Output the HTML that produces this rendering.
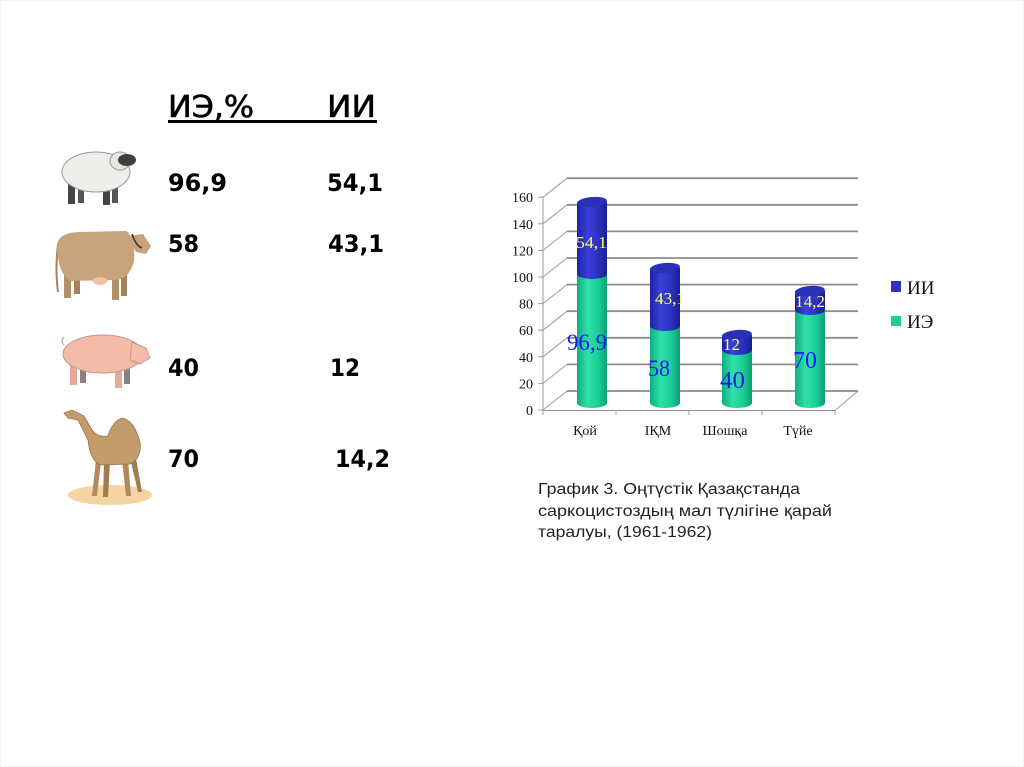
<!DOCTYPE html>
<html>
<head>
<meta charset="utf-8">
<style>
html,body{margin:0;padding:0;background:#fff;}
body{width:1024px;height:767px;overflow:hidden;position:relative;}
svg{position:absolute;left:0;top:0;}
</style>
</head>
<body>
<svg width="1024" height="767" viewBox="0 0 1024 767" xmlns="http://www.w3.org/2000/svg">
<defs>
  <linearGradient id="gG" x1="0" x2="1" y1="0" y2="0">
    <stop offset="0" stop-color="#0fae80"/>
    <stop offset="0.35" stop-color="#2ee0aa"/>
    <stop offset="0.7" stop-color="#1ccf98"/>
    <stop offset="1" stop-color="#0d9e74"/>
  </linearGradient>
  <linearGradient id="gB" x1="0" x2="1" y1="0" y2="0">
    <stop offset="0" stop-color="#1e22a0"/>
    <stop offset="0.35" stop-color="#3a40d6"/>
    <stop offset="0.7" stop-color="#2c31c0"/>
    <stop offset="1" stop-color="#1a1e94"/>
  </linearGradient>
</defs>

<rect x="0.5" y="0.5" width="1023" height="766" fill="none" stroke="#f2f2f2" stroke-width="1"/>

<!-- ===== Left table ===== -->
<g font-family="'DejaVu Sans','Liberation Sans',sans-serif" fill="#000">
  <text x="168" y="117" font-size="30" stroke="#000" stroke-width="0.6" textLength="86" lengthAdjust="spacingAndGlyphs">ИЭ,%</text>
  <text x="327" y="117" font-size="30" stroke="#000" stroke-width="0.6" textLength="49" lengthAdjust="spacingAndGlyphs">ИИ</text>
  <rect x="168" y="120" width="209" height="3"/>
  <g font-weight="bold" font-size="24">
    <text x="168" y="191" textLength="59" lengthAdjust="spacingAndGlyphs">96,9</text>
    <text x="327" y="191" textLength="56" lengthAdjust="spacingAndGlyphs">54,1</text>
    <text x="168" y="252" textLength="31" lengthAdjust="spacingAndGlyphs">58</text>
    <text x="328" y="252" textLength="56" lengthAdjust="spacingAndGlyphs">43,1</text>
    <text x="168" y="376" textLength="31" lengthAdjust="spacingAndGlyphs">40</text>
    <text x="330" y="376" textLength="30" lengthAdjust="spacingAndGlyphs">12</text>
    <text x="168" y="467" textLength="31" lengthAdjust="spacingAndGlyphs">70</text>
    <text x="335" y="467" textLength="55" lengthAdjust="spacingAndGlyphs">14,2</text>
  </g>
</g>

<!-- ===== Animals ===== -->
<!-- sheep -->
<g>
  <rect x="68" y="184" width="7" height="20" fill="#444"/>
  <rect x="78" y="184" width="6" height="19" fill="#555"/>
  <rect x="103" y="184" width="7" height="21" fill="#444"/>
  <rect x="112" y="184" width="6" height="19" fill="#555"/>
  <ellipse cx="96" cy="172" rx="34" ry="20" fill="#eeeeea" stroke="#9a9a96" stroke-width="1"/>
  <ellipse cx="120" cy="161" rx="10" ry="9" fill="#e6e6e2" stroke="#9a9a96" stroke-width="1"/>
  <ellipse cx="127" cy="160" rx="9" ry="6" fill="#3e3e3e"/>
</g>
<!-- cow -->
<g>
  <path d="M58 244 Q55 270 58 292" stroke="#a8845e" stroke-width="2" fill="none"/>
  <rect x="64" y="262" width="7" height="36" fill="#b48e66"/>
  <rect x="74" y="262" width="6" height="32" fill="#a8825c"/>
  <rect x="112" y="262" width="7" height="38" fill="#b48e66"/>
  <rect x="121" y="262" width="6" height="34" fill="#a8825c"/>
  <path d="M57 244 Q60 232 80 232 L126 231 Q136 238 134 262 Q128 280 115 280 L70 281 Q57 272 57 244 Z" fill="#c7a27a"/>
  <ellipse cx="100" cy="281" rx="7" ry="4" fill="#f0c0a8"/>
  <path d="M128 236 L143 234 L151 246 L146 254 L136 252 Z" fill="#c7a27a"/>
  <path d="M132 234 Q136 246 142 248" stroke="#333" stroke-width="1.5" fill="none"/>
</g>
<!-- pig -->
<g>
  <rect x="70" y="365" width="7" height="20" fill="#e8a898"/>
  <rect x="80" y="365" width="6" height="18" fill="#8a8080"/>
  <rect x="115" y="366" width="7" height="22" fill="#e8a898"/>
  <rect x="124" y="366" width="6" height="18" fill="#8a8080"/>
  <ellipse cx="103" cy="354" rx="40" ry="19" fill="#f4bba9" stroke="#c99686" stroke-width="1"/>
  <path d="M132 342 L146 348 L150 358 L140 364 L130 360 Z" fill="#f4bba9" stroke="#c99686" stroke-width="1"/>
  <path d="M64 345 q-4 -4 0 -8" stroke="#c99686" fill="none"/>
</g>
<!-- camel -->
<g>
  <ellipse cx="110" cy="495" rx="42" ry="10" fill="#f6d2a4"/>
  <path d="M96 460 L92 496 L97 496 L101 462 Z" fill="#b08a5c"/>
  <path d="M104 462 L103 497 L108 497 L110 462 Z" fill="#a07c50"/>
  <path d="M122 460 L126 496 L131 496 L128 460 Z" fill="#b08a5c"/>
  <path d="M130 458 L138 492 L142 492 L136 458 Z" fill="#a07c50"/>
  <path d="M88 440 Q90 460 100 465 L130 464 Q142 458 140 442 Q134 420 122 418 Q112 422 108 436 Q98 438 92 430 L84 416 L72 410 L64 413 L68 418 L78 420 Z" fill="#c49c6c" stroke="#9a7446" stroke-width="0.8"/>
</g>

<!-- ===== Chart ===== -->
<g stroke-linecap="butt">
  <g stroke="#8c8c8c" stroke-width="1.8">
    <line x1="567" y1="391" x2="858" y2="391"/>
    <line x1="567" y1="364.4" x2="858" y2="364.4"/>
    <line x1="567" y1="337.8" x2="858" y2="337.8"/>
    <line x1="567" y1="311.2" x2="858" y2="311.2"/>
    <line x1="567" y1="284.6" x2="858" y2="284.6"/>
    <line x1="567" y1="258" x2="858" y2="258"/>
    <line x1="567" y1="231.4" x2="858" y2="231.4"/>
    <line x1="567" y1="204.8" x2="858" y2="204.8"/>
    <line x1="567" y1="178.2" x2="858" y2="178.2"/>
  </g>
  <g stroke="#9a9a9a" stroke-width="1">
    <line x1="543" y1="410" x2="567" y2="391"/>
    <line x1="543" y1="383.4" x2="567" y2="364.4"/>
    <line x1="543" y1="356.8" x2="567" y2="337.8"/>
    <line x1="543" y1="330.2" x2="567" y2="311.2"/>
    <line x1="543" y1="303.6" x2="567" y2="284.6"/>
    <line x1="543" y1="277" x2="567" y2="258"/>
    <line x1="543" y1="250.4" x2="567" y2="231.4"/>
    <line x1="543" y1="223.8" x2="567" y2="204.8"/>
    <line x1="543" y1="197.2" x2="567" y2="178.2"/>
    <line x1="543" y1="197" x2="543" y2="410"/>
    <line x1="538" y1="410" x2="543" y2="410"/>
    <line x1="538" y1="383.4" x2="543" y2="383.4"/>
    <line x1="538" y1="356.8" x2="543" y2="356.8"/>
    <line x1="538" y1="330.2" x2="543" y2="330.2"/>
    <line x1="538" y1="303.6" x2="543" y2="303.6"/>
    <line x1="538" y1="277" x2="543" y2="277"/>
    <line x1="538" y1="250.4" x2="543" y2="250.4"/>
    <line x1="538" y1="223.8" x2="543" y2="223.8"/>
    <line x1="538" y1="197.2" x2="543" y2="197.2"/>
    <line x1="543" y1="410.5" x2="835" y2="410.5"/>
    <line x1="835" y1="410.5" x2="858" y2="391"/>
    <line x1="543" y1="410" x2="543" y2="415"/>
    <line x1="616" y1="410" x2="616" y2="415"/>
    <line x1="689" y1="410" x2="689" y2="415"/>
    <line x1="762" y1="410" x2="762" y2="415"/>
    <line x1="835" y1="410" x2="835" y2="415"/>
  </g>

  <g font-family="'Liberation Serif',serif" font-size="14" fill="#111" text-anchor="end">
    <text x="533" y="415">0</text>
    <text x="533" y="388.4">20</text>
    <text x="533" y="361.8">40</text>
    <text x="533" y="335.2">60</text>
    <text x="533" y="308.6">80</text>
    <text x="533" y="282">100</text>
    <text x="533" y="255.4">120</text>
    <text x="533" y="228.8">140</text>
    <text x="533" y="202.2">160</text>
  </g>

  <g>
    <path d="M577 274 L577 403 A15 5 0 0 0 607 403 L607 274 Z" fill="url(#gG)"/>
    <path d="M577 202 L577 274 A15 5 0 0 0 607 274 L607 202 Z" fill="url(#gB)"/>
    <ellipse cx="592" cy="202" rx="15" ry="5" fill="#2b30b8" transform="rotate(-5 592 202)"/>
  </g>
  <g>
    <path d="M650 326 L650 403 A15 5 0 0 0 680 403 L680 326 Z" fill="url(#gG)"/>
    <path d="M650 268 L650 326 A15 5 0 0 0 680 326 L680 268 Z" fill="url(#gB)"/>
    <ellipse cx="665" cy="268" rx="15" ry="5" fill="#2b30b8" transform="rotate(-5 665 268)"/>
  </g>
  <g>
    <path d="M722 350 L722 403 A15 5 0 0 0 752 403 L752 350 Z" fill="url(#gG)"/>
    <path d="M722 335 L722 350 A15 5 0 0 0 752 350 L752 335 Z" fill="url(#gB)"/>
    <ellipse cx="737" cy="335" rx="15" ry="5" fill="#2b30b8" transform="rotate(-5 737 335)"/>
  </g>
  <g>
    <path d="M795 310 L795 403 A15 5 0 0 0 825 403 L825 310 Z" fill="url(#gG)"/>
    <path d="M795 291 L795 310 A15 5 0 0 0 825 310 L825 291 Z" fill="url(#gB)"/>
    <ellipse cx="810" cy="291" rx="15" ry="5" fill="#2b30b8" transform="rotate(-5 810 291)"/>
  </g>

  <g font-family="'Liberation Serif',serif" fill="#ffff66" font-size="17">
    <text x="576" y="248" textLength="31" lengthAdjust="spacingAndGlyphs">54,1</text>
    <text x="655" y="304" textLength="30" lengthAdjust="spacingAndGlyphs">43,1</text>
    <text x="723" y="350" textLength="17" lengthAdjust="spacingAndGlyphs">12</text>
    <text x="795" y="307" textLength="30" lengthAdjust="spacingAndGlyphs">14,2</text>
  </g>
  <g font-family="'Liberation Serif',serif" fill="#1a1af0" font-size="23">
    <text x="567" y="350" textLength="40" lengthAdjust="spacingAndGlyphs">96,9</text>
    <text x="648" y="376" textLength="22" lengthAdjust="spacingAndGlyphs">58</text>
    <text x="720" y="388" font-size="24" textLength="25" lengthAdjust="spacingAndGlyphs">40</text>
    <text x="793" y="368" font-size="24" textLength="24" lengthAdjust="spacingAndGlyphs">70</text>
  </g>

  <g font-family="'Liberation Serif',serif" font-size="14" fill="#111" text-anchor="middle">
    <text x="585" y="435">Қой</text>
    <text x="658" y="435">ІҚМ</text>
    <text x="725" y="435">Шошқа</text>
    <text x="798" y="435">Түйе</text>
  </g>

  <rect x="891" y="281" width="10" height="11" fill="#3030c8"/>
  <rect x="891" y="316" width="10" height="10" fill="#22cc99"/>
  <g font-family="'Liberation Serif',serif" font-size="19" fill="#111">
    <text x="907" y="294">ИИ</text>
    <text x="907" y="328">ИЭ</text>
  </g>
</g>

<g font-family="'Liberation Sans','DejaVu Sans',sans-serif" font-size="16" fill="#222">
  <text x="538" y="494" textLength="262" lengthAdjust="spacingAndGlyphs">График 3. Оңтүстік Қазақстанда</text>
  <text x="538" y="516" textLength="294" lengthAdjust="spacingAndGlyphs">саркоцистоздың мал түлігіне қарай</text>
  <text x="538" y="537" textLength="174" lengthAdjust="spacingAndGlyphs">таралуы, (1961-1962)</text>
</g>
</svg>
</body>
</html>
